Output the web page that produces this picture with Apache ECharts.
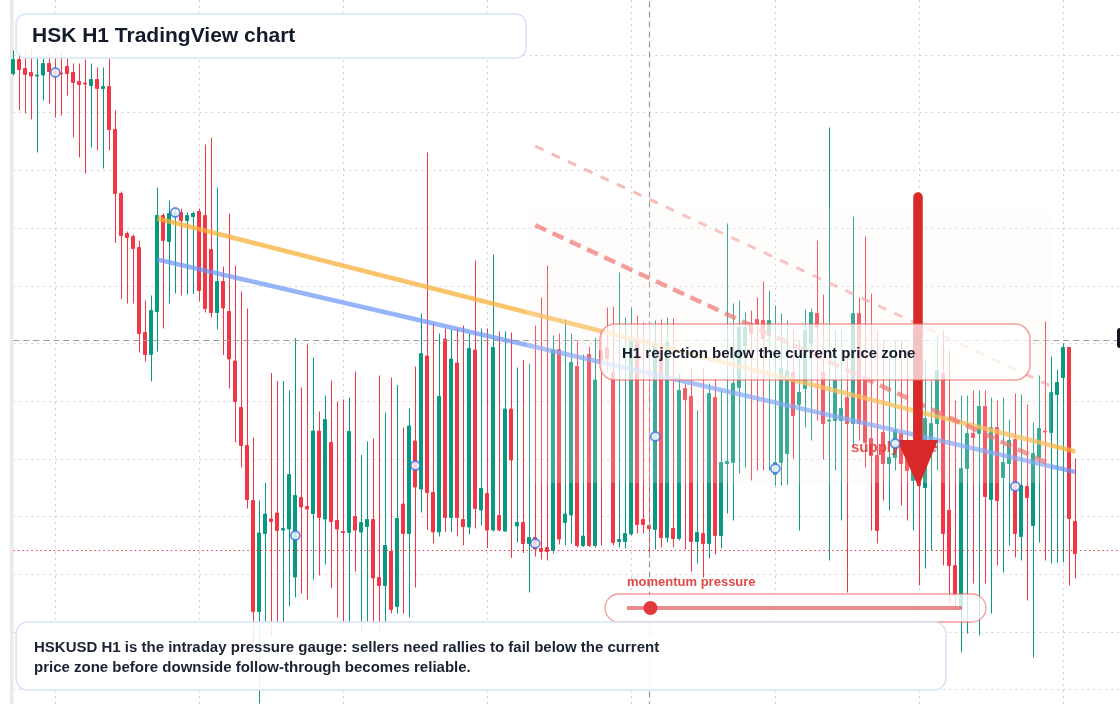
<!DOCTYPE html>
<html>
<head>
<meta charset="utf-8">
<title>HSK H1 TradingView chart</title>
<script src="https://cdn.jsdelivr.net/npm/echarts@6/dist/echarts.min.js"></script>
<style>
  html, body { margin: 0; padding: 0; background: #ffffff; }
  #main { width: 1120px; height: 704px; }
</style>
</head>
<body>
<div id="main"></div>
<script>
// HSKUSD H1 candles
const opens = [
  0.847, 0.861, 0.852, 0.848, 0.8445, 0.8455, 0.857, 0.850, 0.8475, 0.854,
  0.848, 0.839, 0.8375, 0.835, 0.841, 0.832, 0.834, 0.791, 0.727, 0.687,
  0.684, 0.673, 0.588, 0.566, 0.609, 0.705, 0.679, 0.704, 0.708, 0.700,
  0.704, 0.709, 0.705, 0.671, 0.608, 0.639, 0.609, 0.5595, 0.513, 0.475,
  0.420, 0.309, 0.387, 0.4015, 0.4075, 0.3905, 0.3915, 0.3435, 0.423, 0.414,
  0.407, 0.4895, 0.4015, 0.478, 0.400, 0.389, 0.388, 0.404, 0.3885, 0.394,
  0.401, 0.343, 0.335, 0.369, 0.314, 0.4165, 0.387, 0.4795, 0.4315, 0.5645,
  0.428, 0.3885, 0.5815, 0.403, 0.5575, 0.401, 0.3935, 0.5705, 0.4105, 0.427,
  0.3905, 0.405, 0.3895, 0.5115, 0.3945, 0.398, 0.377, 0.383, 0.372, 0.373,
  0.370, 0.571, 0.398, 0.4055, 0.554, 0.375, 0.566, 0.375, 0.570, 0.573,
  0.548, 0.379, 0.379, 0.3865, 0.580, 0.401, 0.395, 0.391, 0.572, 0.383,
  0.392, 0.382, 0.532, 0.524, 0.379, 0.387, 0.377, 0.523, 0.385, 0.457,
  0.458, 0.533, 0.575, 0.597, 0.601, 0.600, 0.585, 0.446, 0.458, 0.467,
  0.548, 0.516, 0.532, 0.577, 0.607, 0.548, 0.4995, 0.500, 0.500, 0.523,
  0.497, 0.607, 0.540, 0.482, 0.465, 0.488, 0.457, 0.463, 0.487, 0.480,
  0.440, 0.480, 0.433, 0.470, 0.497, 0.547, 0.410, 0.355, 0.312, 0.452,
  0.487, 0.487, 0.514, 0.421, 0.493, 0.443, 0.457, 0.481, 0.384, 0.434,
  0.395, 0.463, 0.4895, 0.488, 0.526, 0.543, 0.573, 0.399
];
const closes = [
  0.861, 0.851, 0.846, 0.8445, 0.8455, 0.857, 0.849, 0.846, 0.8465, 0.847,
  0.838, 0.836, 0.8365, 0.841, 0.832, 0.834, 0.791, 0.727, 0.685, 0.683,
  0.672, 0.587, 0.566, 0.610, 0.705, 0.680, 0.707, 0.708, 0.700, 0.705,
  0.707, 0.630, 0.612, 0.608, 0.639, 0.6125, 0.5615, 0.519, 0.475, 0.421,
  0.309, 0.3875, 0.4065, 0.399, 0.390, 0.392, 0.446, 0.425, 0.4135, 0.4115,
  0.4895, 0.403, 0.501, 0.399, 0.3915, 0.388, 0.489, 0.3905, 0.398, 0.401,
  0.3425, 0.335, 0.375, 0.311, 0.402, 0.387, 0.4945, 0.4335, 0.567, 0.428,
  0.3885, 0.524, 0.403, 0.5615, 0.403, 0.394, 0.572, 0.412, 0.432, 0.3905,
  0.573, 0.3905, 0.5115, 0.4605, 0.398, 0.377, 0.383, 0.3715, 0.369, 0.369,
  0.5705, 0.3815, 0.4065, 0.558, 0.375, 0.3845, 0.375, 0.5405, 0.560, 0.562,
  0.378, 0.381, 0.387, 0.580, 0.396, 0.396, 0.392, 0.577, 0.383, 0.578,
  0.382, 0.530, 0.521, 0.379, 0.388, 0.377, 0.527, 0.385, 0.458, 0.459,
  0.537, 0.593, 0.593, 0.587, 0.596, 0.582, 0.600, 0.458, 0.552, 0.550,
  0.505, 0.528, 0.590, 0.608, 0.593, 0.497, 0.5005, 0.540, 0.512, 0.497,
  0.607, 0.497, 0.478, 0.465, 0.390, 0.457, 0.463, 0.490, 0.457, 0.450,
  0.480, 0.435, 0.502, 0.497, 0.550, 0.387, 0.355, 0.325, 0.452, 0.487,
  0.483, 0.514, 0.424, 0.493, 0.420, 0.458, 0.480, 0.387, 0.435, 0.423,
  0.467, 0.492, 0.4885, 0.528, 0.538, 0.573, 0.402, 0.367
];
const lows = [
  0.845, 0.810, 0.807, 0.801, 0.768, 0.820, 0.817, 0.803, 0.805, 0.825,
  0.783, 0.763, 0.747, 0.773, 0.770, 0.752, 0.770, 0.6775, 0.6215, 0.617,
  0.617, 0.568, 0.559, 0.539, 0.569, 0.592, 0.617, 0.627, 0.625, 0.626,
  0.6265, 0.619, 0.608, 0.603, 0.591, 0.5655, 0.532, 0.478, 0.453, 0.412,
  0.260, 0.217, 0.298, 0.285, 0.298, 0.298, 0.314, 0.323, 0.327, 0.321,
  0.341, 0.345, 0.356, 0.3325, 0.303, 0.298, 0.298, 0.349, 0.287, 0.298,
  0.297, 0.288, 0.298, 0.307, 0.307, 0.307, 0.303, 0.333, 0.408, 0.3905,
  0.377, 0.384, 0.3885, 0.3885, 0.384, 0.375, 0.386, 0.392, 0.395, 0.3725,
  0.389, 0.389, 0.3885, 0.3625, 0.378, 0.3675, 0.328, 0.364, 0.361, 0.360,
  0.367, 0.376, 0.375, 0.377, 0.373, 0.3735, 0.3735, 0.373, 0.375, 0.548,
  0.375, 0.373, 0.372, 0.385, 0.387, 0.387, 0.363, 0.371, 0.373, 0.378,
  0.373, 0.380, 0.371, 0.349, 0.357, 0.343, 0.362, 0.366, 0.372, 0.407,
  0.400, 0.447, 0.453, 0.440, 0.450, 0.450, 0.450, 0.435, 0.435, 0.436,
  0.462, 0.390, 0.493, 0.480, 0.500, 0.461, 0.360, 0.450, 0.400, 0.328,
  0.473, 0.480, 0.453, 0.390, 0.377, 0.420, 0.410, 0.450, 0.415, 0.400,
  0.390, 0.335, 0.352, 0.370, 0.450, 0.355, 0.318, 0.310, 0.268, 0.287,
  0.337, 0.285, 0.337, 0.307, 0.355, 0.348, 0.375, 0.363, 0.360, 0.320,
  0.263, 0.378, 0.360, 0.357, 0.358, 0.358, 0.335, 0.342
];
const highs = [
  0.870, 0.870, 0.870, 0.872, 0.862, 0.862, 0.867, 0.863, 0.868, 0.862,
  0.857, 0.857, 0.861, 0.857, 0.853, 0.853, 0.862, 0.810, 0.729, 0.689,
  0.686, 0.680, 0.620, 0.625, 0.733, 0.707, 0.720, 0.711, 0.712, 0.708,
  0.709, 0.712, 0.776, 0.783, 0.733, 0.654, 0.707, 0.655, 0.629, 0.612,
  0.483, 0.420, 0.4375, 0.5475, 0.5395, 0.5395, 0.530, 0.5825, 0.533, 0.576,
  0.563, 0.509, 0.525, 0.540, 0.519, 0.521, 0.523, 0.549, 0.4655, 0.479,
  0.482, 0.545, 0.508, 0.543, 0.5355, 0.493, 0.512, 0.554, 0.607, 0.768,
  0.597, 0.587, 0.592, 0.591, 0.592, 0.595, 0.587, 0.660, 0.592, 0.592,
  0.666, 0.589, 0.589, 0.588, 0.553, 0.5605, 0.557, 0.595, 0.623, 0.655,
  0.585, 0.587, 0.601, 0.587, 0.579, 0.566, 0.574, 0.5825, 0.590, 0.613,
  0.614, 0.648, 0.603, 0.613, 0.605, 0.598, 0.597, 0.600, 0.601, 0.603,
  0.602, 0.547, 0.537, 0.553, 0.510, 0.552, 0.537, 0.542, 0.530, 0.697,
  0.617, 0.620, 0.608, 0.610, 0.623, 0.639, 0.630, 0.615, 0.607, 0.600,
  0.590, 0.580, 0.611, 0.612, 0.680, 0.626, 0.793, 0.590, 0.590, 0.570,
  0.704, 0.623, 0.684, 0.627, 0.590, 0.580, 0.570, 0.580, 0.580, 0.570,
  0.590, 0.580, 0.560, 0.540, 0.585, 0.590, 0.570, 0.520, 0.525, 0.525,
  0.530, 0.530, 0.530, 0.523, 0.520, 0.523, 0.501, 0.527, 0.526, 0.516,
  0.498, 0.545, 0.599, 0.564, 0.551, 0.577, 0.573, 0.462
];

// signal dots every 20 bars: [bar index, price]
const signalDots = [
  [7, 0.848], [27, 0.708], [47, 0.385], [67, 0.455], [87, 0.377],
  [107, 0.484], [127, 0.452], [147, 0.477], [167, 0.434]
];

// drawn trend lines: [bar index, price]
const orangeTrend = [[24, 0.702], [177, 0.469]];
const blueTrend = [[24, 0.661], [177, 0.4485]];
const channelUpper = [[87, 0.7743], [173, 0.5343]];
const channelLower = [[87, 0.6953], [173, 0.4556]];

const crosshairBar = 106;
const crosshairPrice = 0.582;
const momentumLevel = 0.07; // 0..1 along the gauge

const extraSlots = 8; // empty space right of the last bar
const hours = [];
const start = new Date(Date.UTC(2025, 0, 6, 0));
for (let k = 0; k < opens.length + extraSlots; k++) {
  const d = new Date(start.getTime() + k * 3600 * 1000);
  hours.push((d.getUTCMonth() + 1) + '-' + d.getUTCDate() + ' ' + String(d.getUTCHours()).padStart(2, '0') + ':00');
}

const candles = opens.map((o, i) => [o, closes[i], lows[i], highs[i]]);
const lastClose = closes[closes.length - 1];

const chart = echarts.init(document.getElementById('main'));

const FONT = '"Liberation Sans", Arial, sans-serif';
const gaugeX0 = 627, gaugeX1 = 962;
const gridStyle = { color: '#d2d2d2', width: 1, type: [2, 4] };

const option = {
  animation: false,
  backgroundColor: '#ffffff',
  // plot runs a little past the canvas on the right and bottom, like the original
  grid: { left: 13.3, top: 0, width: 1110, height: 747.4, outerBoundsMode: 'none' },
  xAxis: {
    type: 'category',
    data: hours,
    boundaryGap: false,
    axisLine: { show: false },
    axisTick: { show: false },
    axisLabel: { show: false },
    splitLine: {
      show: true,
      interval: (idx) => (idx - 7) % 24 === 0,
      lineStyle: gridStyle
    }
  },
  yAxis: {
    type: 'value',
    min: 0.1731,
    max: 0.9205,
    interval: 0.0577,
    axisLine: { show: false },
    axisTick: { show: false },
    axisLabel: { show: false },
    splitLine: { show: true, showMaxLine: false, lineStyle: gridStyle }
  },
  series: [
    {
      name: 'HSKUSD',
      type: 'candlestick',
      data: candles,
      barWidth: 3.8,
      z: 2,
      itemStyle: {
        color: '#089981',
        color0: '#f23645',
        borderColor: '#089981',
        borderColor0: '#f23645',
        borderWidth: 1
      },
      markLine: {
        silent: true,
        symbol: 'none',
        label: { show: false },
        data: [
          { yAxis: lastClose, lineStyle: { color: '#f23645', type: [1.5, 3], width: 1 } },
          { yAxis: crosshairPrice, lineStyle: { color: '#9b9b9b', type: [6, 4], width: 1.2 } },
          { xAxis: crosshairBar, lineStyle: { color: '#9b9b9b', type: [6, 4], width: 1.2 } }
        ]
      }
    },
    {
      name: 'orange trend',
      type: 'line',
      data: orangeTrend,
      symbol: 'none',
      z: 4,
      lineStyle: { color: 'rgba(248,176,58,0.75)', width: 4.5 }
    },
    {
      name: 'blue trend',
      type: 'line',
      data: blueTrend,
      symbol: 'none',
      z: 4,
      lineStyle: { color: 'rgba(104,148,246,0.7)', width: 4.5 }
    },
    {
      name: 'channel upper',
      type: 'line',
      data: channelUpper,
      symbol: 'none',
      z: 4,
      lineStyle: { color: 'rgba(240,140,140,0.6)', width: 3, type: [9, 9] }
    },
    {
      name: 'channel lower',
      type: 'line',
      data: channelLower,
      symbol: 'none',
      z: 4,
      lineStyle: { color: 'rgba(232,84,84,0.7)', width: 4.5, type: [12, 7] }
    },
    {
      name: 'signals',
      type: 'scatter',
      data: signalDots,
      symbol: 'circle',
      symbolSize: 9,
      z: 30,
      itemStyle: { color: '#ffffff', borderColor: '#3b6fe6', borderWidth: 1.8 }
    }
  ],
  graphic: [
    // left rail
    { type: 'rect', silent: true, z: 1, shape: { x: 10, y: 0, width: 3.5, height: 704 }, style: { fill: '#eaeaea' } },
    // supply zone wash
    { type: 'rect', silent: true, z: 10, shape: { x: 527, y: 207, width: 524, height: 276, r: 12 }, style: { fill: 'rgba(255,244,240,0.2)' } },
    { type: 'text', silent: true, z: 11, style: { x: 851, y: 448, text: 'supply zone', fill: 'rgba(226,54,54,0.85)', font: 'bold 15px ' + FONT, verticalAlign: 'middle' } },
    // big down arrow
    { type: 'line', silent: true, z: 12, shape: { x1: 918, y1: 197, x2: 918, y2: 446 }, style: { stroke: '#d92828', lineWidth: 9.5, lineCap: 'round' } },
    { type: 'polygon', silent: true, z: 12, shape: { points: [[897, 440], [938, 440], [918.5, 487]] }, style: { fill: '#d92828' } },
    // callout
    { type: 'rect', silent: true, z: 13, shape: { x: 600, y: 324, width: 430, height: 56, r: 15 }, style: { fill: 'rgba(255,255,255,0.72)', stroke: 'rgba(232,96,96,0.6)', lineWidth: 1.5 } },
    { type: 'text', silent: true, z: 14, style: { x: 622, y: 354.3, text: 'H1 rejection below the current price zone', fill: '#161d2c', font: 'bold 15px ' + FONT, verticalAlign: 'middle' } },
    // title
    { type: 'rect', silent: true, z: 20, shape: { x: 16, y: 14, width: 510, height: 44, r: 10 }, style: { fill: 'rgba(255,255,255,0.88)', stroke: '#d8e4f6', lineWidth: 1.5 } },
    { type: 'text', silent: true, z: 21, style: { x: 32, y: 36.3, text: 'HSK H1 TradingView chart', fill: '#131a2a', font: 'bold 21px ' + FONT, verticalAlign: 'middle' } },
    // momentum gauge
    { type: 'text', silent: true, z: 21, style: { x: 627, y: 582, text: 'momentum pressure', fill: 'rgba(222,52,52,0.9)', font: 'bold 13px ' + FONT, verticalAlign: 'middle' } },
    { type: 'rect', silent: true, z: 20, shape: { x: 605, y: 594, width: 381, height: 28, r: 14 }, style: { fill: 'rgba(255,255,255,0.8)', stroke: 'rgba(232,90,90,0.6)', lineWidth: 1.3 } },
    { type: 'line', silent: true, z: 21, shape: { x1: gaugeX0, y1: 608, x2: gaugeX1, y2: 608 }, style: { stroke: 'rgba(226,90,90,0.7)', lineWidth: 4 } },
    { type: 'circle', silent: true, z: 22, shape: { cx: gaugeX0 + momentumLevel * (gaugeX1 - gaugeX0), cy: 608, r: 7 }, style: { fill: '#e03a3a' } },
    // bottom note
    { type: 'rect', silent: true, z: 20, shape: { x: 16, y: 622, width: 930, height: 68, r: 12 }, style: { fill: 'rgba(255,255,255,0.88)', stroke: '#d8e4f6', lineWidth: 1.5 } },
    { type: 'text', silent: true, z: 21, style: { x: 34, y: 648.3, text: 'HSKUSD H1 is the intraday pressure gauge: sellers need rallies to fail below the current', fill: '#1b2232', font: 'bold 15px ' + FONT, verticalAlign: 'middle' } },
    { type: 'text', silent: true, z: 21, style: { x: 34, y: 668.3, text: 'price zone before downside follow-through becomes reliable.', fill: '#1b2232', font: 'bold 15px ' + FONT, verticalAlign: 'middle' } },
    // crosshair price tag (clipped at the right edge)
    { type: 'rect', silent: true, z: 20, shape: { x: 1117, y: 328, width: 14, height: 20, r: 3 }, style: { fill: '#131722' } }
  ]
};

chart.setOption(option);
</script>
</body>
</html>
